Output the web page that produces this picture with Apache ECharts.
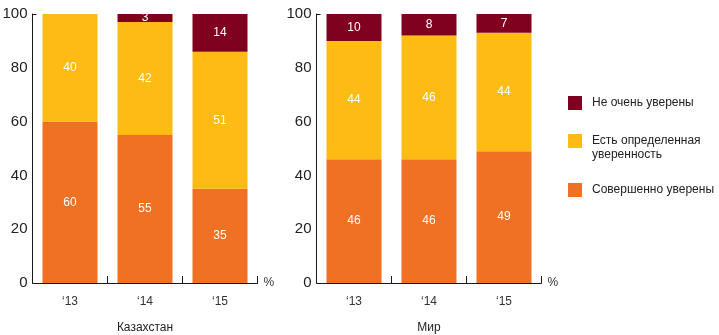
<!DOCTYPE html>
<html>
<head>
<meta charset="utf-8">
<script src="https://cdn.jsdelivr.net/npm/echarts@6/dist/echarts.min.js"></script>
<style>
  html, body { margin: 0; padding: 0; background: #fff; }
  #chart { width: 719px; height: 335px; }
</style>
</head>
<body>
<div id="chart"></div>
<script>
// Survey years on the category axis
const categories = ['‘13', '‘14', '‘15'];

// Kazakhstan, % of respondents
const kzComplete = [60, 55, 35];
const kzSome = [40, 42, 51];
const kzNotVery = [0, 3, 14];

// World, % of respondents
const worldComplete = [46, 46, 49];
const worldSome = [44, 46, 44];
const worldNotVery = [10, 8, 7];

// Panel titles and answer names
const panelNames = ['Казахстан', 'Мир'];
const answerNames = ['Совершенно уверены', 'Есть определенная уверенность', 'Не очень уверены'];
const legendLabels = {
  'Совершенно уверены': 'Совершенно уверены',
  'Есть определенная уверенность': 'Есть определенная\nуверенность',
  'Не очень уверены': 'Не очень уверены'
};

// Value axis scale
const yMin = 0, yMax = 100, yStep = 20;

const colors = {
  'Совершенно уверены': '#F07124',
  'Есть определенная уверенность': '#FDBB13',
  'Не очень уверены': '#800020'
};

const FONT = '"Liberation Sans", Arial, Helvetica, sans-serif';
const AXIS_COLOR = '#1a1a1a';

const chart = echarts.init(document.getElementById('chart'), null, { renderer: 'canvas' });

const gridLefts = [32.5, 316.5];

function makeXAxes(gridIndex) {
  return [
    {
      type: 'category',
      gridIndex: gridIndex,
      data: categories,
      name: '%',
      nameLocation: 'end',
      nameGap: 6,
      nameTextStyle: { color: '#333', fontSize: 12, fontFamily: FONT, padding: [0, 0, 6, 0] },
      axisLine: { show: true, lineStyle: { color: AXIS_COLOR, width: 1 } },
      axisTick: { show: true, inside: true, length: 7, lineStyle: { color: AXIS_COLOR } },
      axisLabel: { color: '#333', fontSize: 12, fontFamily: FONT, margin: 13 },
      splitLine: { show: false }
    },
    {
      type: 'category',
      gridIndex: gridIndex,
      position: 'bottom',
      data: categories,
      name: panelNames[gridIndex],
      nameLocation: 'middle',
      nameGap: 39,
      nameTextStyle: { color: '#222', fontSize: 12, fontFamily: FONT },
      axisLine: { show: false },
      axisTick: { show: false },
      axisLabel: { show: false },
      splitLine: { show: false }
    }
  ];
}

function makeYAxis(gridIndex) {
  return {
    type: 'value',
    gridIndex: gridIndex,
    min: yMin,
    max: yMax,
    interval: yStep,
    axisLine: { show: true, lineStyle: { color: AXIS_COLOR, width: 1 } },
    axisTick: { show: true, inside: true, length: 4, customValues: [yMax], lineStyle: { color: AXIS_COLOR } },
    axisLabel: { color: '#222', fontSize: 15, fontFamily: FONT, margin: 5 },
    splitLine: { show: false }
  };
}

function makeSeries(gridIndex, stackName, complete, some, notVery) {
  const values = [complete, some, notVery];
  return answerNames.map((name, i) => ({
    type: 'bar',
    name: name,
    xAxisIndex: gridIndex * 2,
    yAxisIndex: gridIndex,
    stack: stackName,
    barWidth: 55,
    data: values[i],
    itemStyle: { color: colors[name] },
    label: {
      show: true,
      position: 'inside',
      color: '#fff',
      fontSize: 12,
      fontFamily: FONT,
      formatter: p => (p.value > 0 ? String(p.value) : '')
    },
    emphasis: { disabled: true }
  }));
}

// Multi-line entries hang from the first line: a blank leading line balances
// the extra lines below, so the square stays level with the first line.
function hangingLabel(label) {
  const extra = label.split('\n').length - 1;
  return '\n'.repeat(extra) + label;
}

function makeLegend(name, top) {
  return {
    data: [name],
    orient: 'vertical',
    left: 568,
    top: top,
    padding: 0,
    icon: 'rect',
    itemWidth: 14,
    itemHeight: 14,
    formatter: n => hangingLabel(legendLabels[n]),
    textStyle: {
      color: '#222',
      fontSize: 12,
      fontFamily: FONT,
      lineHeight: 14,
      padding: [0, 0, 0, 5]
    }
  };
}

const option = {
  backgroundColor: '#fff',
  animation: false,
  textStyle: { fontFamily: FONT },
  grid: [
    { left: gridLefts[0], width: 225, top: 14, bottom: 52, outerBoundsMode: 'none' },
    { left: gridLefts[1], width: 225, top: 14, bottom: 52, outerBoundsMode: 'none' }
  ],
  xAxis: [...makeXAxes(0), ...makeXAxes(1)],
  yAxis: [makeYAxis(0), makeYAxis(1)],
  legend: [
    makeLegend('Не очень уверены', 96),
    makeLegend('Есть определенная уверенность', 120),
    makeLegend('Совершенно уверены', 183)
  ],
  series: [
    ...makeSeries(0, 'kz', kzComplete, kzSome, kzNotVery),
    ...makeSeries(1, 'world', worldComplete, worldSome, worldNotVery)
  ]
};

chart.setOption(option);
</script>
</body>
</html>
